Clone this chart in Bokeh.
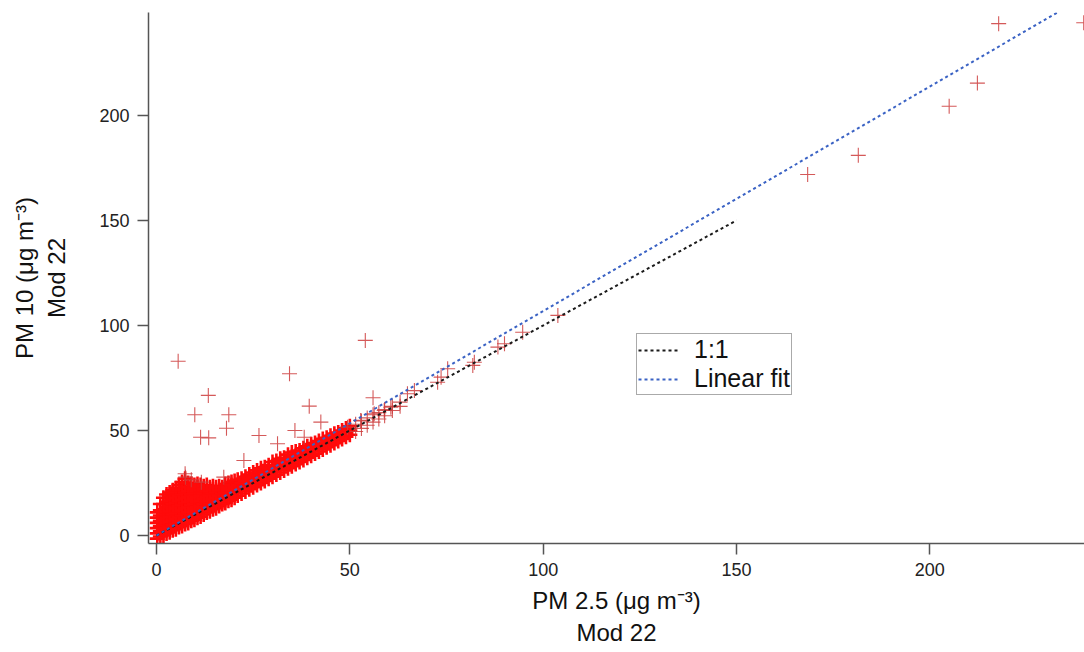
from bokeh.plotting import figure
from bokeh.models import FixedTicker, Range1d
from bokeh.embed import file_html
from bokeh.resources import INLINE

# ---- data ----
# dense band: column x positions and the PM10 values found at each column
band_x = [0.2, 1.0, 1.8, 2.6, 3.4, 4.2, 5.0, 5.8, 6.6, 7.4, 8.2, 9.0, 9.8, 10.6,
          11.4, 12.2, 13.0, 13.8, 14.6, 15.4, 16.2, 17.0, 17.8, 18.6, 19.4,
          20.2, 21.0, 22.0, 23.0, 24.0, 25.0, 26.0, 27.0, 28.0, 29.0, 30.0, 31.0,
          32.0, 33.0, 34.0, 35.0, 36.0, 37.0, 38.0, 39.0, 40.0, 41.0, 42.0, 43.0,
          44.0, 45.0, 46.0, 47.0, 48.0, 49.0, 50.0]
band_y = [
    [-1.5, 1, 3.5, 6, 8.5, 11],
    [-0.5, 2, 4.5, 7, 9.5, 12, 15],
    [0, 2.5, 5, 7.5, 10, 12.5, 15, 18],
    [1, 3.5, 6, 8.5, 11, 13.5, 16, 19.5],
    [1.5, 4, 6.5, 9, 11.5, 14, 16.5, 18.5, 20.5],
    [2.5, 5, 7.5, 10, 12.5, 15, 17.5, 20, 21.5],
    [3, 5.5, 8, 10.5, 13, 15.5, 18, 20.5, 22.5],
    [4, 6.5, 9, 11.5, 14, 16.5, 19, 21.5, 24],
    [4.5, 7, 9.5, 12, 14.5, 17, 19.5, 22, 25.5],
    [5.5, 8, 10.5, 13, 15.5, 18, 20.5, 23, 25, 27],
    [6, 8.5, 11, 13.5, 16, 18.5, 21, 23, 25],
    [7, 9.5, 12, 14.5, 17, 19.5, 22, 24.5],
    [7.5, 10, 12.5, 15, 17.5, 20, 22, 24],
    [8.5, 11, 13.5, 16, 18.5, 21, 23, 24.5],
    [9, 11.5, 14, 16.5, 19, 21.5, 24],
    [10, 12.5, 15, 17.5, 20, 22, 23.5],
    [11, 13.5, 16, 18.5, 21, 24],
    [11.5, 14, 16.5, 19, 21, 23],
    [12.5, 15, 17.5, 20, 22, 23.5],
    [13, 15.5, 18, 20.5, 23],
    [14, 16.5, 19, 21.5, 23.5],
    [15, 17.5, 20, 21.5, 23],
    [15.5, 18, 20.5, 22.5, 24.5],
    [16.5, 19, 21.5, 23, 25],
    [17, 19.5, 22, 24, 25.5],
    [18, 20.5, 23, 26],
    [19, 21.5, 24, 26.5],
    [20, 22.5, 25, 27],
    [21, 23.5, 26, 28],
    [22, 24.5, 27, 29],
    [23, 25.5, 28, 30],
    [24, 26.5, 29, 31],
    [25, 27.5, 30, 32],
    [26, 28.5, 30.5, 32.5],
    [27, 29.5, 31.5, 33.5],
    [28, 30.5, 33, 35],
    [29, 31.5, 33.5, 35.5],
    [30, 32.5, 34.5, 36.5],
    [31, 33.5, 35, 37],
    [32, 34.5, 36.5, 38.5],
    [33, 35.5, 37.5, 39.5],
    [34, 36.5, 38, 40],
    [35, 37.5, 39, 40.5],
    [36, 38.5, 40, 41.5],
    [37, 39.5, 41, 42.5],
    [38, 40.5, 42, 43.5],
    [39, 41.5, 44],
    [40, 42.5, 45],
    [41, 43.5, 46],
    [42, 44.5, 46.5],
    [43, 45.5, 47.5],
    [44, 46.5, 48.5],
    [45, 47, 49],
    [46, 48, 50],
    [47, 49, 51],
    [48, 50, 52]]

# thinner continuation of the band just beyond 50
edge_x = [51.5, 51.5, 53.0, 53.0, 54.5, 54.5, 56.0, 56.0, 57.5, 57.5, 59.0, 59.0,
          61.0, 61.0, 63.0, 63.0]
edge_y = [49.5, 53.0, 51.0, 54.5, 52.5, 56.0, 54.0, 57.5, 55.5, 58.5, 57.0, 60.0,
          59.5, 61.5, 61.5, 63.5]

# scattered points above the band
out_x = [5.6, 13.4, 9.9, 18.7, 18.1, 11.4, 13.5, 34.4, 54.0, 39.5, 26.5, 31.3, 35.8,
         42.5, 38.2, 22.6, 7.5, 17.4, 56.0, 7.4, 11.6, 9.0]
out_y = [83.0, 66.7, 57.5, 57.5, 51.1, 46.8, 46.5, 77.0, 92.9, 61.6, 47.6, 43.7, 50.0,
         54.0, 46.8, 35.7, 27.8, 27.8, 65.6, 29.4, 25.4, 26.5]

# points along the line, mid range
tail_x = [49.4, 52.8, 56.3, 58.9, 60.6, 64.9, 66.7, 72.7, 73.6, 75.3, 81.8, 82.2,
          88.3, 90.0, 94.7, 103.8]
tail_y = [51.6, 54.8, 58.0, 59.5, 61.1, 67.5, 69.0, 73.0, 75.4, 79.4, 81.0, 82.5,
          89.7, 91.3, 96.8, 104.8]

# high values
high_x = [168.4, 181.5, 205.0, 212.3, 217.8, 239.8]
high_y = [171.9, 181.0, 204.4, 215.4, 243.7, 244.1]

# reference lines
one_x = [0, 150]
one_y = [0, 150]
fit_x = [0, 233]
fit_y = [0, 249]

x_ticks = [0, 50, 100, 150, 200]
y_ticks = [0, 50, 100, 150, 200]

# ---- assemble points ----
bx, by = [], []
for xv, ys in zip(band_x, band_y):
    for yv in ys:
        bx.append(xv)
        by.append(yv)
sx = edge_x + out_x + tail_x + high_x
sy = edge_y + out_y + tail_y + high_y

FONT = "Liberation Sans"

p = figure(width=1084, height=652, output_backend="svg", toolbar_location=None,
           x_range=Range1d(-2.07, 240), y_range=Range1d(-3.8, 249),
           min_border_left=148, min_border_right=0, min_border_top=12,
           min_border_bottom=109)
p.outline_line_color = None
p.xgrid.visible = False
p.ygrid.visible = False
p.background_fill_color = "white"
p.border_fill_color = "white"

# dense part of the cloud (heavily overplotted in the original)
p.scatter(bx, by, marker="cross", size=15, line_color="#ff0a0a", line_width=2.6,
          line_alpha=1.0)
# sparse points
p.scatter(sx, sy, marker="cross", size=15, line_color="#cc3c3c", line_width=1.1,
          line_alpha=0.85)

p.line(one_x, one_y, line_color="#1a1a1a", line_width=2, line_dash="3 3",
       legend_label="1:1")
p.line(fit_x, fit_y, line_color="#3a62c4", line_width=2, line_dash="3 3",
       legend_label="Linear fit")

for ax in (p.xaxis[0], p.yaxis[0]):
    ax.axis_line_color = "#555555"
    ax.axis_line_width = 1.5
    ax.major_tick_line_color = "#555555"
    ax.major_tick_line_width = 1.5
    ax.major_tick_out = 11
    ax.major_tick_in = 0
    ax.minor_tick_line_color = None
    ax.major_label_text_font = FONT
    ax.major_label_text_font_size = "18px"
    ax.major_label_text_color = "#222222"
    ax.axis_label_text_font = FONT
    ax.axis_label_text_font_size = "24px"
    ax.axis_label_text_font_style = "normal"
    ax.axis_label_text_color = "#111111"

p.xaxis[0].ticker = FixedTicker(ticks=x_ticks)
p.yaxis[0].ticker = FixedTicker(ticks=y_ticks)
p.xaxis[0].major_label_standoff = 8
p.yaxis[0].major_label_standoff = 8
p.xaxis[0].axis_label = "PM 2.5 (\u03bcg m\u207b\u00b3)\nMod 22"
p.yaxis[0].axis_label = "PM 10 (\u03bcg m\u207b\u00b3)\nMod 22"
p.xaxis[0].axis_label_standoff = 8
p.yaxis[0].axis_label_standoff = 26

lg = p.legend[0]
lg.location = (488, 148)
lg.label_text_font = FONT
lg.label_text_font_size = "25px"
lg.label_text_color = "#111111"
lg.border_line_color = "#555555"
lg.border_line_width = 1.3
lg.background_fill_alpha = 1.0
lg.padding = 1
lg.spacing = 0
lg.margin = 0
lg.glyph_width = 42
lg.glyph_height = 24
lg.label_height = 24
lg.label_standoff = 14

open("out.html", "w").write(file_html(p, INLINE))
